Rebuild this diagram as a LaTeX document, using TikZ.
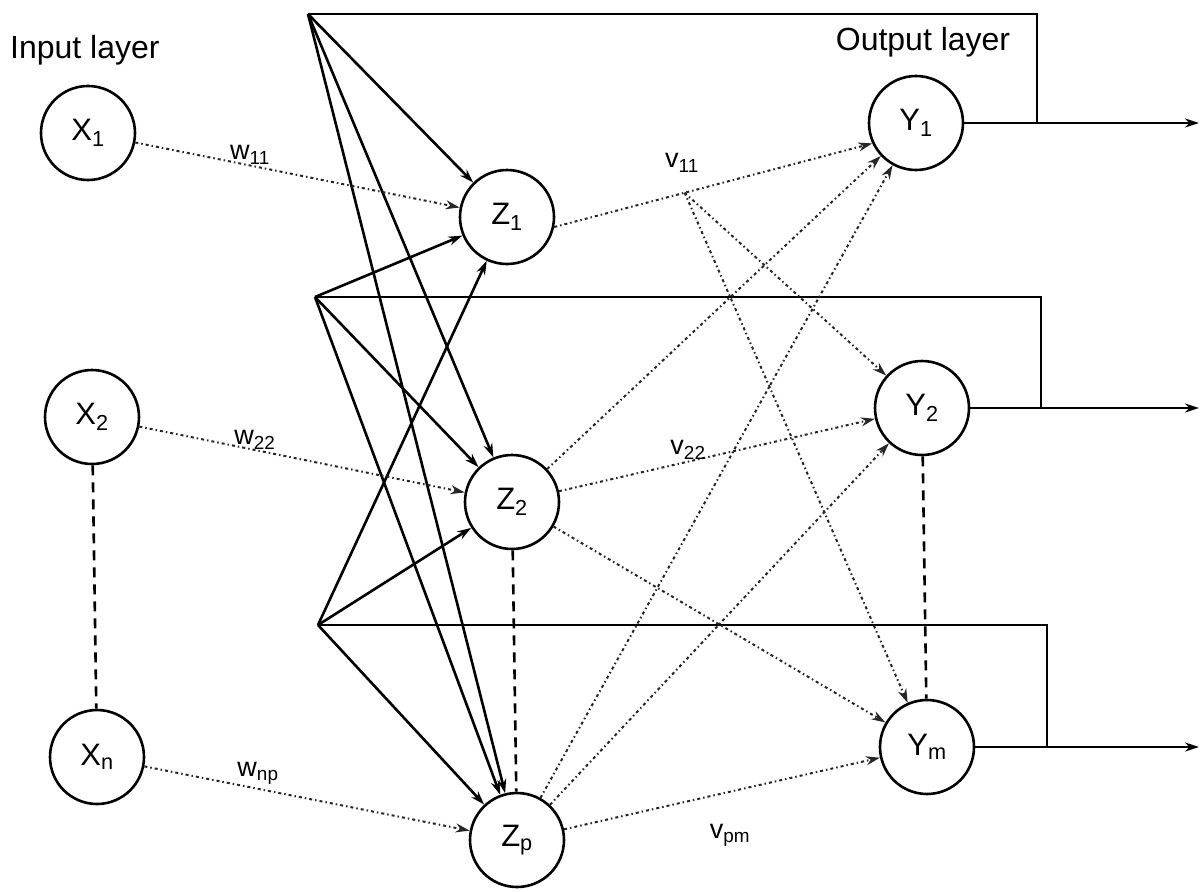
\documentclass[tikz,border=0pt]{standalone}
\usepackage{fontspec}
\setmainfont{Liberation Sans}
\usetikzlibrary{arrows.meta,calc}
\begin{document}
\begin{tikzpicture}[x=1pt,y=-1pt,
  neuron/.style={circle,draw,line width=2.6pt,minimum size=94pt,inner sep=0pt,
    font=\fontsize{31}{34}\selectfont},
  solidarrow/.style={line width=2.6pt,-{Stealth[length=14pt,width=9pt]}},
  solidline/.style={line width=2.8pt},
  dotarrow/.style={line width=2pt,black!85,dash pattern=on 3pt off 3pt on 1.5pt off 3pt,
    -{Stealth[length=14pt,width=9pt]}},
  vdash/.style={line width=2.6pt,dash pattern=on 10pt off 7pt},
  wlabel/.style={font=\fontsize{27}{30}\selectfont,inner sep=0pt},
  layerlabel/.style={font=\fontsize{32}{36}\selectfont,inner sep=0pt}
]
\useasboundingbox (0,0) rectangle (1201,891);
\fill[white] (0,0) rectangle (1201,891);

% neurons
\node[neuron] (X1) at (88,133) {X\textsubscript{1}};
\node[neuron] (X2) at (92,417) {X\textsubscript{2}};
\node[neuron] (Xn) at (97,757) {X\textsubscript{n}};
\node[neuron] (Z1) at (507,217) {Z\textsubscript{1}};
\node[neuron] (Z2) at (512,502) {Z\textsubscript{2}};
\node[neuron] (Zp) at (517,840) {Z\textsubscript{p}};
\node[neuron] (Y1) at (916,123) {Y\textsubscript{1}};
\node[neuron] (Y2) at (922,408) {Y\textsubscript{2}};
\node[neuron] (Ym) at (927,747) {Y\textsubscript{m}};

% layer labels
\node[layerlabel,anchor=west] (inl) at (10,50) {Input layer};
\node[layerlabel] (outl) at (923,42) {Output layer};

% vertical dashed links
\draw[vdash] (X2) -- (Xn);
\draw[vdash] (Z2) -- (Zp);
\draw[vdash] (Y2) -- (Ym);

% feedback junctions
\coordinate (J1) at (308,14);
\coordinate (J2) at (315,297);
\coordinate (J3) at (318,625);
\coordinate (o1) at (1037,123);
\coordinate (o2) at (1041,408);
\coordinate (o3) at (1047,747);
\coordinate (e1) at (1199,123);
\coordinate (e2) at (1199,408);
\coordinate (e3) at (1199,747);

% outputs and feedback loops
\draw[solidline] (Y1) -- (o1);
\draw[solidline] (Y2) -- (o2);
\draw[solidline] (Ym) -- (o3);
\draw[solidarrow] (o1) -- (e1);
\draw[solidarrow] (o2) -- (e2);
\draw[solidarrow] (o3) -- (e3);
\draw[solidline] (o1) |- (J1);
\draw[solidline] (o2) |- (J2);
\draw[solidline] (o3) |- (J3);

% context to hidden
\foreach \j in {J1,J2,J3}{
  \foreach \z in {Z1,Z2,Zp}{
    \draw[solidarrow] (\j) -- (\z);
  }
}

% input to hidden
\draw[dotarrow] (X1) -- (Z1);
\draw[dotarrow] (X2) -- (Z2);
\draw[dotarrow] (Xn) -- (Zp);

% hidden to output
\coordinate (P) at ($(Z1.-12)!0.41!(Y1.205)$);
\draw[dotarrow] (Z1.-12) -- (Y1.205);
\draw[dotarrow] (P) -- (Y2);
\draw[dotarrow] (P) -- (Ym);
\draw[dotarrow] (Z2) -- (Y1);
\draw[dotarrow] (Z2) -- (Y2);
\draw[dotarrow] (Z2) -- (Ym);
\draw[dotarrow] (Zp) -- (Y1);
\draw[dotarrow] (Zp) -- (Y2);
\draw[dotarrow] (Zp) -- (Ym);

% weight labels
\node[wlabel] (w11) at (250,155) {w\textsubscript{11}};
\node[wlabel] (w22) at (255,440) {w\textsubscript{22}};
\node[wlabel] (wnp) at (258,773) {w\textsubscript{np}};
\node[wlabel] (v11) at (682,163) {v\textsubscript{11}};
\node[wlabel] (v22) at (688,450) {v\textsubscript{22}};
\node[wlabel] (vpm) at (730,835) {v\textsubscript{pm}};
\end{tikzpicture}
\end{document}
